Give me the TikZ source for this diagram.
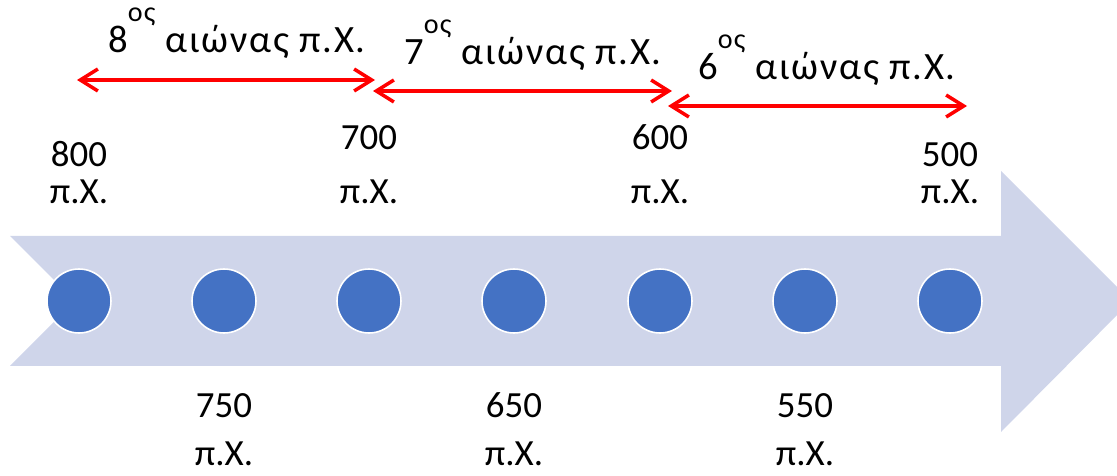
\documentclass[tikz,border=0pt]{standalone}
\usepackage{fontspec}
\setmainfont{Carlito}
\usetikzlibrary{arrows.meta}
\definecolor{bandblue}{HTML}{CFD5EA}
\definecolor{dotblue}{HTML}{4472C4}
\newcommand{\ordsup}[1]{\raisebox{18pt}{\fontsize{16}{16}\selectfont #1}}

\begin{document}
\begin{tikzpicture}[x=0.02cm,y=-0.02cm,
  dot/.style={circle,fill=dotblue,draw=white,line width=0.9pt,minimum size=1.28cm,inner sep=0pt},
  year/.style={font=\fontsize{21}{21.5}\selectfont,align=center,inner sep=0pt,anchor=base},
  century/.style={font=\fontsize{22}{24}\selectfont\addfontfeature{LetterSpace=4.5},inner sep=0pt,anchor=base},
  span/.style={draw=red,line width=2pt,{Straight Barb[length=10pt,width=12.5pt]}-{Straight Barb[length=10pt,width=12.5pt]}}]
\useasboundingbox (0,0) rectangle (1117,476);
\fill[bandblue] (10,236) -- (1001,236) -- (1001,171) -- (1131,301) -- (1001,432)
  -- (1001,366) -- (10,366) -- (75,301) -- cycle;
\foreach \x/\yr in {79/800,224/750,369/700,514/650,660/600,805/550,950/500}
  \node[dot] (c\yr) at (\x,301) {};
% base anchor sits on the last line
\node[year] (t800) at (79,204) {800\\π.Χ.};
\node[year] (t700) at (369,204) {700\\[9.7pt]π.Χ.};
\node[year] (t600) at (660,204) {600\\[9.7pt]π.Χ.};
\node[year] (t500) at (950,204) {500\\π.Χ.};
\node[year] (t750) at (224,466) {750\\[6pt]π.Χ.};
\node[year] (t650) at (514,466) {650\\[6pt]π.Χ.};
\node[year] (t550) at (805,466) {550\\[6pt]π.Χ.};
\coordinate (l8) at (77,80);  \coordinate (r8) at (375,80);
\coordinate (l7) at (373,91); \coordinate (r7) at (672,91);
\coordinate (l6) at (668,106); \coordinate (r6) at (967,106);
\draw[span] (l8) -- (r8);
\draw[span] (l7) -- (r7);
\draw[span] (l6) -- (r6);
\node[century] (h8) at (237,53) {8\ordsup{ος} αιώνας π.Χ.};
\node[century] (h7) at (533,65) {7\ordsup{ος} αιώνας π.Χ.};
\node[century] (h6) at (827,80) {6\ordsup{ος} αιώνας π.Χ.};
\end{tikzpicture}
\end{document}
